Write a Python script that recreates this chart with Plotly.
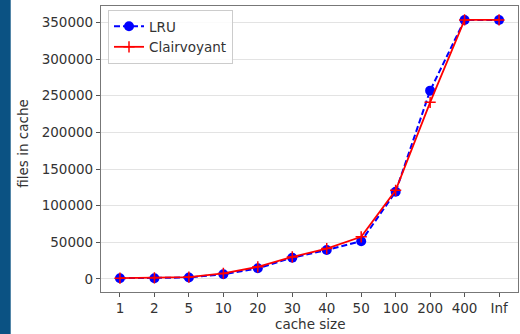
import plotly.graph_objects as go

# cache sizes (categorical) and number of files held in cache
cache_sizes = ["1", "2", "5", "10", "20", "30", "40", "50", "100", "200", "400", "Inf"]
lru_files = [1000, 1000, 2000, 6500, 14500, 29000, 39500, 51500, 119000, 257000, 353500, 353500]
clairvoyant_files = [1000, 1500, 2500, 7500, 16500, 30000, 41500, 57500, 121000, 241000, 353500, 353500]
y_ticks = [0, 50000, 100000, 150000, 200000, 250000, 300000, 350000]

W, H = 520, 334
L, R, T, B = 101, 2, 6, 42
pw, ph = W - L - R, H - T - B

font_family = "DejaVu Sans, sans-serif"
fig = go.Figure()

fig.add_trace(go.Scatter(
    x=cache_sizes, y=lru_files, name="LRU", mode="lines+markers",
    line=dict(color="#0000ff", width=2, dash="6px,3px"),
    marker=dict(symbol="circle", size=10, color="#0000ff"),
))
fig.add_trace(go.Scatter(
    x=cache_sizes, y=clairvoyant_files, name="Clairvoyant", mode="lines+markers",
    line=dict(color="#ff0000", width=1.8),
    marker=dict(symbol="cross-thin", size=8, line=dict(color="#ff0000", width=1.5)),
))

axis_common = dict(
    showline=True, linecolor="#777", linewidth=1.2, mirror=True,
    ticks="outside", ticklen=4, tickcolor="#555",
    tickfont=dict(family=font_family, size=13.5, color="#333"),
    zeroline=False,
)

fig.update_xaxes(
    type="category", categoryorder="array", categoryarray=cache_sizes,
    range=[-0.55, len(cache_sizes) - 1 + 0.55], showgrid=False, **axis_common,
)
fig.update_yaxes(
    range=[-17800, 372500], tickvals=y_ticks, tickformat="d",
    showgrid=True, gridcolor="#e3e3e3", gridwidth=1, **axis_common,
)

# dark side band at the left edge of the page
fig.add_shape(
    type="rect", xref="paper", yref="paper",
    x0=-L / pw, x1=-(L - 10.7) / pw, y0=-B / ph - 0.01, y1=1 + T / ph + 0.01,
    fillcolor="#0b5283", line=dict(width=0), layer="above",
)

fig.add_annotation(
    text="files in cache", textangle=-90, xref="paper", yref="paper",
    x=(22.7 - L) / pw, y=(T + ph - 144) / ph, xanchor="center", yanchor="middle",
    showarrow=False, font=dict(family=font_family, size=13.5, color="#333"),
)
fig.add_annotation(
    text="cache size", xref="paper", yref="paper",
    x=0.5, y=(T + ph - 333.5) / ph, xanchor="center", yanchor="bottom",
    showarrow=False, font=dict(family=font_family, size=13.5, color="#333"),
    borderpad=0,
)

fig.update_layout(
    width=W, height=H, margin=dict(l=L, r=R, t=T, b=B),
    paper_bgcolor="white", plot_bgcolor="white",
    font=dict(family=font_family, size=13.5, color="#333"),
    showlegend=True,
    legend=dict(
        x=(108 - L) / pw, y=(T + ph - 10) / ph, xanchor="left", yanchor="top",
        bgcolor="rgba(255,255,255,0.85)", bordercolor="#cccccc", borderwidth=1,
        font=dict(family=font_family, size=13.5, color="#333"),
        tracegroupgap=0, itemwidth=30,
    ),
)

fig.write_html("out.html")
